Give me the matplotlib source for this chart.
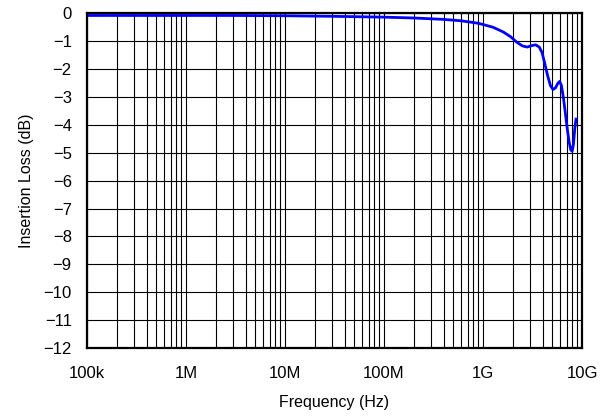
import numpy as np
import matplotlib
matplotlib.use("Agg")
import matplotlib.pyplot as plt
from matplotlib.ticker import LogLocator, FixedLocator, NullFormatter

plt.rcParams['font.family'] = ['Liberation Sans', 'DejaVu Sans']

freq_hz = [1e5, 3e5, 1e6, 3e6, 1e7, 3e7, 1e8, 2e8, 4e8, 6e8, 9e8, 1.26e9, 1.6e9,
           1.9e9, 2.2e9, 2.5e9, 2.8e9, 3.1e9, 3.4e9, 3.7e9, 3.95e9, 4.2e9, 4.5e9,
           4.8e9, 5.1e9, 5.4e9, 5.7e9, 5.95e9, 6.2e9, 6.5e9, 6.8e9, 7.1e9, 7.4e9,
           7.7e9, 7.95e9, 8.2e9, 8.45e9, 8.7e9]
loss_db = [-0.09, -0.09, -0.09, -0.09, -0.10, -0.12, -0.15, -0.18, -0.23, -0.28,
           -0.37, -0.51, -0.68, -0.85, -1.05, -1.18, -1.22, -1.17, -1.14, -1.22,
           -1.42, -1.8, -2.25, -2.6, -2.74, -2.68, -2.52, -2.45, -2.6, -3.05,
           -3.6, -4.15, -4.6, -4.9, -4.95, -4.7, -4.15, -3.8]

x_ticks = [1e5, 1e6, 1e7, 1e8, 1e9, 1e10]
x_labels = ['100k', '1M', '10M', '100M', '1G', '10G']
y_ticks = list(range(0, -13, -1))
y_labels = [str(v).replace('-', '\u2212') for v in y_ticks]

fig = plt.figure(figsize=(6.0, 4.18), dpi=100)
ax = fig.add_axes([0.145, 0.167, 0.825, 0.802])

ax.plot(freq_hz, loss_db, color='#0000ff', lw=2.0, zorder=3)
ax.set_xscale('log')
ax.set_xlim(1e5, 1e10)
ax.set_ylim(-12, 0)

ax.xaxis.set_major_locator(FixedLocator(x_ticks))
ax.set_xticklabels(x_labels)
ax.xaxis.set_minor_locator(LogLocator(base=10, subs=np.arange(2, 10), numticks=20))
ax.xaxis.set_minor_formatter(NullFormatter())
ax.set_yticks(y_ticks)
ax.set_yticklabels(y_labels)

ax.grid(True, which='major', color='black', lw=0.8)
ax.grid(True, which='minor', axis='x', color='black', lw=0.8)
ax.tick_params(which='both', length=0, labelsize=12)
ax.tick_params(axis='x', pad=13)
ax.tick_params(axis='y', pad=11)
for s in ax.spines.values():
    s.set_linewidth(1.6)
    s.set_zorder(4)

ax.set_xlabel('Frequency (Hz)', fontsize=11.5, labelpad=10)
ax.set_ylabel('Insertion Loss (dB)', fontsize=11.5, labelpad=7)

fig.savefig('out.png', dpi=100)
